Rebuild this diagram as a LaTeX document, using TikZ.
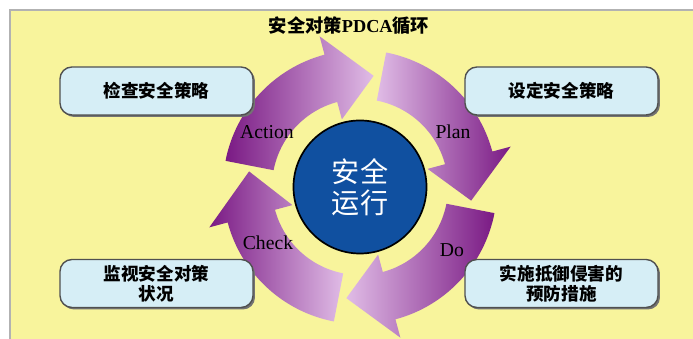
\documentclass[tikz,border=0pt]{standalone}
\usepackage{fontspec}
\setmainfont{Liberation Serif}
\newfontfamily\cjk{Noto Sans CJK SC}
\usepackage{tikz}
\usetikzlibrary{shadows}

\definecolor{bgyellow}{RGB}{248,244,156}
\definecolor{boxblue}{RGB}{214,238,246}
\definecolor{boxline}{RGB}{80,80,80}
\definecolor{coreblue}{RGB}{16,80,160}
\definecolor{pdark}{RGB}{122,26,132}
\definecolor{plight}{RGB}{224,188,230}

\tikzset{
  stepbox/.style={draw=boxline, line width=1pt, fill=boxblue, rounded corners=0.3cm,
    minimum width=4.825cm, minimum height=1.2cm, align=center,
    font=\cjk\bfseries\fontsize{12.5}{14.5}\selectfont,
    drop shadow={shadow xshift=1.4pt, shadow yshift=-1.4pt, fill=black!55, opacity=1}},
  phase/.style={font=\fontsize{14}{16}\selectfont, text=black},
}

\begin{document}
\begin{tikzpicture}[x=0.025cm, y=0.025cm]
\useasboundingbox (0,0) rectangle (693,339);
\fill[bgyellow] (10,0) rectangle (693,329);
\draw[black!30, line width=0.8pt] (10,0) |- (693,329);

\node[font=\bfseries\fontsize{13}{15}\selectfont] (title) at (349,313) {{\cjk 安全对策}PDCA{\cjk 循环}};

% four arrows round the centre (360,152)
\begin{scope}[shift={(360,152)}]
\shade[left color=pdark, right color=plight]   % Action
  (169:137) arc (169:105:137) -- (105:156) -- (83:112) -- (105:70) -- (105:88) arc (105:169:88) -- cycle;
\shade[left color=plight, right color=pdark]   % Plan
  (79:137) arc (79:15:137) -- (15:156) -- (-7:112) -- (15:70) -- (15:88) arc (15:79:88) -- cycle;
\shade[left color=plight, right color=pdark]   % Do
  (-11:137) arc (-11:-75:137) -- (-75:156) -- (-97:112) -- (-75:70) -- (-75:88) arc (-75:-11:88) -- cycle;
\shade[left color=pdark, right color=plight]   % Check
  (-101:137) arc (-101:-165:137) -- (-165:156) -- (172:112) -- (-165:70) -- (-165:88) arc (-165:-101:88) -- cycle;
\end{scope}

\node[circle, draw=black, line width=1.2pt, fill=coreblue, minimum size=3.325cm,
  text=white, align=center, font=\cjk\fontsize{20}{22}\selectfont] (core) at (360,152) {安全\\运行};

\node[phase] (act)  at (267,207) {Action};
\node[phase] (plan) at (453,207) {Plan};
\node[phase] (chk)  at (268,96)  {Check};
\node[phase] (do)   at (452,89)  {Do};

\node[stepbox] (check)  at (156.5,248)  {检查安全策略};
\node[stepbox] (set)    at (561.5,248)  {设定安全策略};
\node[stepbox] (watch)  at (156.5,55.5) {监视安全对策\\状况};
\node[stepbox] (defend) at (561.5,55.5) {实施抵御侵害的\\预防措施};

\end{tikzpicture}
\end{document}
